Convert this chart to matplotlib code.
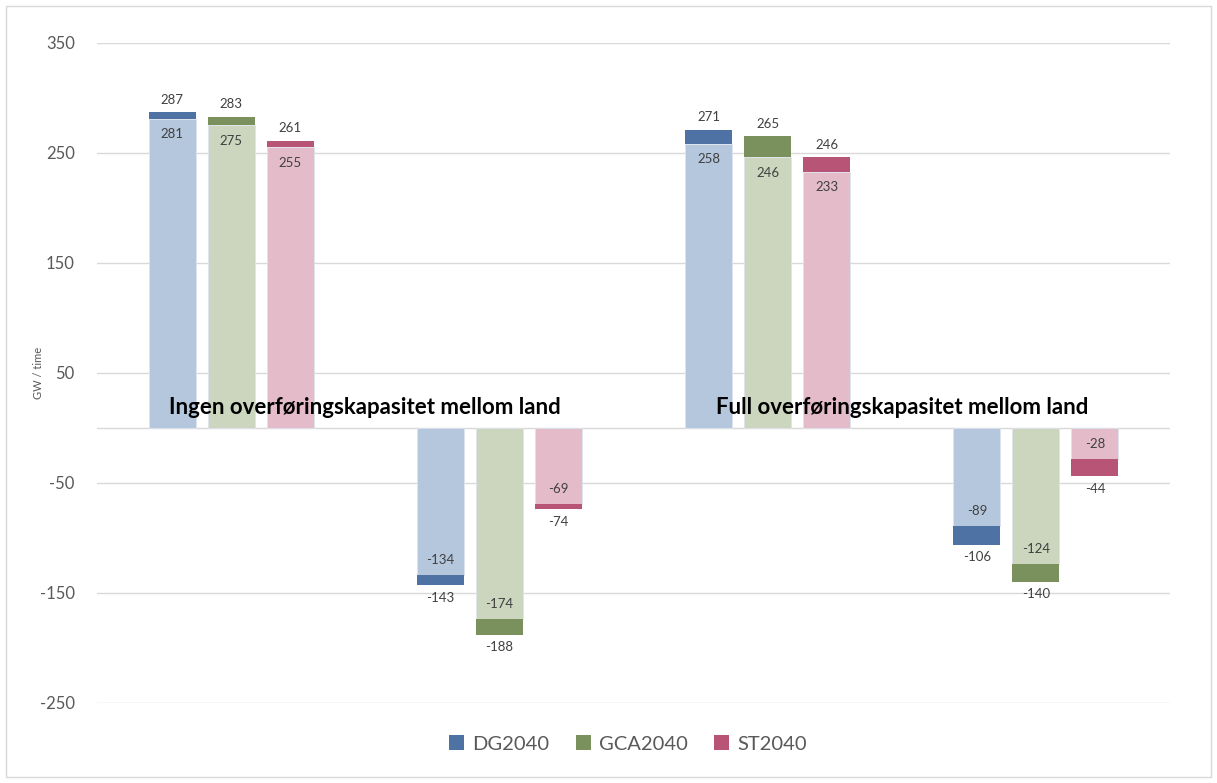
import matplotlib
matplotlib.use("Agg")
import matplotlib.pyplot as plt
from matplotlib.patches import Rectangle
import numpy as np

plt.rcParams['font.family'] = ['Lato', 'DejaVu Sans']
plt.rcParams['axes.unicode_minus'] = False

# Scenario groups: two positive (surplus), two negative (deficit)
groups = ["Ingen+", "Ingen-", "Full+", "Full-"]
series = ["DG2040", "GCA2040", "ST2040"]

# Base value (light bar) and extreme value (dark cap) per series
dg_base = [281, -134, 258, -89]
dg_top = [287, -143, 271, -106]
gca_base = [275, -174, 246, -124]
gca_top = [283, -188, 265, -140]
st_base = [255, -69, 233, -28]
st_top = [261, -74, 246, -44]

bases = [dg_base, gca_base, st_base]
tops = [dg_top, gca_top, st_top]
dark = ["#4E72A3", "#7A915E", "#B85475"]
light = ["#B4C7DC", "#CCD5BE", "#E4BBC9"]

yticks = [-250, -150, -50, 50, 150, 250, 350]

fig = plt.figure(figsize=(12.17, 7.83), dpi=100)
ax = fig.add_axes([0.0797, 0.1022, 0.8817, 0.8429])

x = np.arange(len(groups))
width = 0.175
step = 0.22
for i, name in enumerate(series):
    xs = x + (i - 1) * step
    b = np.array(bases[i])
    t = np.array(tops[i])
    ax.bar(xs, b, width, color=light[i], edgecolor="#DDE4EC", linewidth=0.6, zorder=2)
    ax.bar(xs, t - b, width, bottom=b, color=dark[i], label=name, zorder=2)
    for xi, bv, tv in zip(xs, b, t):
        sgn = 1 if tv > 0 else -1
        ax.annotate(f"{bv}", (xi, bv), xytext=(0, -11 * sgn), textcoords="offset points",
                    ha="center", va="center", fontsize=9.5, color="#404040", zorder=3)
        ax.annotate(f"{tv}", (xi, tv), xytext=(0, 9 * sgn), textcoords="offset points",
                    ha="center", va="center", fontsize=9.5, color="#404040", zorder=3)

ax.set_xlim(-0.5, len(groups) - 0.5)
ax.set_ylim(-250, 350)
ax.set_yticks(yticks)
ax.set_xticks([])
ax.grid(axis="y", color="#D9D9D9", linewidth=1, zorder=0)
ax.axhline(0, color="#D9D9D9", linewidth=1, zorder=1)
for s in ax.spines.values():
    s.set_visible(False)
ax.tick_params(axis="y", length=0, labelsize=12, labelcolor="#595959", pad=16)
ax.set_ylabel("GW / time", fontsize=8, color="#595959", labelpad=-3)

ax.text(0.5, 19, "Ingen overføringskapasitet mellom land", ha="center", va="center",
        fontsize=16, fontweight="bold", color="black", zorder=4)
ax.text(2.5, 19, "Full overføringskapasitet mellom land", ha="center", va="center",
        fontsize=16, fontweight="bold", color="black", zorder=4)

fig.legend(loc="center", bbox_to_anchor=(0.516, 0.05), ncol=3, frameon=False,
           fontsize=14.5, labelcolor="#595959", handlelength=0.75, handleheight=0.75,
           columnspacing=1.3, handletextpad=0.4)

fig.add_artist(Rectangle((0.005, 0.008), 0.99, 0.984, transform=fig.transFigure,
                         fill=False, edgecolor="#D9D9D9", linewidth=1))

fig.savefig("out.png", dpi=100)
